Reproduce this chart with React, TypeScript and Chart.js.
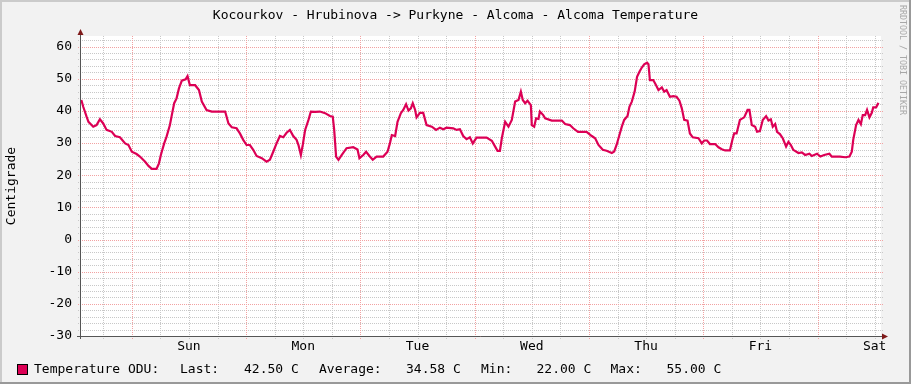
import { useEffect, useRef } from 'react';
import { Chart, registerables } from 'chart.js';

Chart.register(...registerables);

const TITLE = 'Kocourkov - Hrubinova -> Purkyne - Alcoma - Alcoma Temperature';
const Y_TITLE = 'Centigrade';
const WATERMARK = 'RRDTOOL / TOBI OETIKER';
const DAY_LABELS = ['Sun', 'Mon', 'Tue', 'Wed', 'Thu', 'Fri', 'Sat'];
const SERIES_NAME = 'Temperature ODU:';
const STAT_LABELS = ['Last:', 'Average:', 'Min:', 'Max:'];
const STAT_VALUES = ['42.50 C', '34.58 C', '22.00 C', '55.00 C'];

// hours relative to Sunday 00:00
const HOURS = [
  -10.6, -10.2, -9.5, -9.1, -8.1, -7.4, -6.7, -6.0, -5.3, -4.2, -3.5, -2.5, -1.4, -0.7,
  0.0, 1.0, 1.7, 2.8, 3.5, 4.2, 5.2, 5.7, 6.1, 6.8, 7.3, 8.0, 8.4, 8.9, 9.4, 9.9, 10.5,
  11.3, 11.7, 12.2, 13.3, 14.1, 14.7, 15.7, 16.8, 19.6, 20.3, 21.0, 22.0, 22.7, 23.4,
  24.1, 24.8, 25.5, 26.2, 27.3, 28.3, 29.0, 29.7, 30.4, 31.1, 31.8, 32.5, 33.2, 33.9,
  34.6, 35.0, 35.5, 35.9, 36.4, 37.1, 37.6, 38.5, 39.5, 40.6, 41.6, 42.2, 42.5, 42.9,
  43.4, 44.1, 45.1, 46.5, 47.4, 47.8, 48.6, 49.2, 49.9, 50.6, 51.4, 52.8, 53.7, 54.2,
  54.6, 55.3, 55.8, 56.5, 57.0, 57.6, 58.1, 58.6, 59.0, 59.5, 59.8, 60.5, 61.2, 61.9,
  63.0, 63.9, 64.7, 65.4, 66.1, 67.5, 68.2, 68.9, 69.6, 70.3, 71.0, 71.6, 72.4, 74.5,
  75.6, 76.3, 76.8, 77.3, 77.7, 78.4, 79.1, 79.8, 80.5, 81.2, 81.7, 82.1, 82.6, 83.1,
  83.8, 84.0, 84.5, 84.9, 85.4, 85.7, 86.4, 86.8, 88.2, 90.3, 91.0, 92.0, 92.7, 93.7,
  95.5, 96.6, 97.3, 98.0, 98.9, 99.7, 100.8, 101.3, 101.8, 102.4, 102.9, 103.4, 104.1,
  104.5, 105.0, 105.6, 106.1, 106.6, 107.1, 107.6, 108.2, 108.5, 108.8, 109.5, 110.1,
  110.6, 111.3, 111.8, 112.3, 113.0, 113.7, 114.4, 115.0, 115.5, 116.0, 116.7, 117.2,
  117.8, 119.0, 119.7, 120.2, 120.8, 121.4, 122.5, 123.2, 123.9, 124.6, 125.6, 126.2,
  126.5, 127.0, 127.7, 128.6, 129.3, 129.7, 130.2, 130.9, 131.3, 131.9, 132.5, 133.2,
  133.7, 134.2, 134.6, 135.1, 135.5, 136.1, 136.7, 137.4, 137.9, 138.4, 138.9, 140.0,
  140.7, 141.4, 142.3, 142.8, 143.9, 144.6, 145.4, 146.5, 147.0, 148.7, 149.8, 150.7,
  151.2, 151.5, 152.1, 152.6, 153.1, 153.5, 154.0, 154.4, 154.9, 155.4, 155.7, 156.3, 156.8,
];

const TEMPS = [
  43.4, 41.3, 38.2, 36.6, 35.1, 35.6, 37.4, 36.1, 34.1, 33.5, 32.2, 31.8, 29.9, 29.4,
  27.3, 26.6, 25.8, 24.2, 22.9, 22.0, 22.0, 23.7, 26.3, 29.9, 32.0, 35.6, 38.7, 42.4, 43.9, 47.0, 49.4,
  49.8, 50.8, 48.0, 48.0, 46.5, 42.9, 40.3, 39.8, 39.8, 36.1, 34.9, 34.6, 33.0, 31.0,
  29.4, 29.4, 27.9, 26.0, 25.3, 24.2, 24.8, 27.3, 29.9, 32.2, 31.8, 33.2, 34.1, 32.2,
  31.0, 29.4, 26.3, 29.4, 34.1, 37.2, 39.8, 39.7, 39.8, 39.3, 38.4, 38.2, 34.1, 25.8,
  24.8, 26.3, 28.4, 28.7, 28.0, 25.3, 26.3, 27.3, 26.0, 24.8, 25.8, 25.8, 27.3, 29.9,
  32.5, 32.2, 36.6, 39.3, 40.3, 42.1, 40.1, 40.8, 42.4, 40.3, 38.0, 39.4, 39.4, 35.6,
  35.1, 34.1, 34.8, 34.3, 34.8, 34.6, 34.1, 34.3, 32.2, 31.2, 31.8, 29.9, 31.7, 31.7,
  30.7, 28.9, 27.6, 27.6, 31.5, 36.6, 35.1, 37.2, 42.9, 43.4, 46.0, 43.4, 42.4, 43.2,
  41.8, 35.6, 35.1, 37.7, 37.5, 39.8, 38.7, 37.7, 37.0, 37.0, 35.9, 35.6, 34.6, 33.5,
  33.5, 32.2, 31.5, 29.4, 27.9, 27.6, 26.9, 27.4, 29.4, 32.5, 35.1, 37.2, 38.4,
  41.3, 42.9, 46.0, 50.6, 52.2, 53.5, 54.5, 55.0, 54.5, 49.6, 49.6, 48.0,
  46.5, 47.3, 46.0, 46.5, 44.4, 44.6, 44.4, 43.2, 40.8, 37.2, 37.0, 33.0,
  31.8, 31.5, 29.9, 30.8, 30.8, 29.7, 29.7, 28.7, 28.1, 27.7, 27.7, 31.5,
  33.0, 33.0, 37.2, 38.0, 40.3, 40.3, 35.6, 35.1, 33.5, 33.7, 37.2, 38.4,
  37.0, 37.4, 35.1, 35.9, 33.5, 32.8, 31.5, 28.9, 30.4, 29.4, 27.9, 26.9,
  27.1, 26.3, 26.7, 26.0, 26.7, 25.8, 26.3, 26.7, 25.8, 25.8, 25.6, 25.8,
  27.3, 31.0, 35.6, 37.2, 35.9, 38.7, 38.7, 40.3, 38.0, 39.4, 41.1, 41.1, 42.5,
];

const X_MIN = -10.67;
const X_MAX = 157.33;
const Y_MIN = -30;
const Y_MAX = 63.3;

const LINE_COLOR = '#DC0055';
const FONT = "'DejaVu Sans Mono', monospace";
const MINOR = '#C8C8C8';
const MAJOR = '#F2A2A2';

const rrdPlugin = {
  id: 'rrd',
  beforeDraw(chart: any) {
    const { ctx, chartArea: a, width, height } = chart;
    ctx.save();
    ctx.fillStyle = '#F2F2F2';
    ctx.fillRect(0, 0, width, height);
    ctx.fillStyle = '#CBCBCB';
    ctx.fillRect(0, 0, width, 2);
    ctx.fillRect(0, 0, 2, height);
    ctx.fillStyle = '#999999';
    ctx.fillRect(0, height - 2, width, 2);
    ctx.fillRect(width - 2, 0, 2, height);
    ctx.fillStyle = '#FFFFFF';
    ctx.fillRect(a.left, a.top, a.right - a.left, a.bottom - a.top);
    ctx.restore();
  },
  beforeDatasetsDraw(chart: any) {
    const { ctx, chartArea: a, scales } = chart;
    ctx.save();
    ctx.lineWidth = 1;
    ctx.setLineDash([1, 1]);
    for (const pass of [0, 1]) {
      for (const t of scales.y.ticks) {
        const major = t.value % 10 === 0;
        if ((pass === 1) !== major) continue;
        const y = Math.round(scales.y.getPixelForValue(t.value)) + 0.5;
        ctx.strokeStyle = major ? MAJOR : MINOR;
        ctx.beginPath();
        ctx.moveTo(a.left - 3, y);
        ctx.lineTo(a.right + 3, y);
        ctx.stroke();
      }
      for (const t of scales.x.ticks) {
        const major = t.value % 24 === 0;
        if ((pass === 1) !== major) continue;
        const x = Math.round(scales.x.getPixelForValue(t.value)) + 0.5;
        ctx.strokeStyle = major ? MAJOR : MINOR;
        ctx.beginPath();
        ctx.moveTo(x, a.top);
        ctx.lineTo(x, a.bottom + 3);
        ctx.stroke();
      }
    }
    ctx.restore();
  },
  afterDraw(chart: any) {
    const { ctx, chartArea: a } = chart;
    ctx.save();
    ctx.strokeStyle = '#555555';
    ctx.lineWidth = 1;
    ctx.beginPath();
    ctx.moveTo(a.left - 0.5, a.bottom + 3);
    ctx.lineTo(a.left - 0.5, a.top - 4);
    ctx.moveTo(a.left - 4, a.bottom + 0.5);
    ctx.lineTo(a.right + 3, a.bottom + 0.5);
    ctx.stroke();
    ctx.fillStyle = '#7F1A1A';
    ctx.beginPath();
    ctx.moveTo(a.left - 3.5, a.top - 1);
    ctx.lineTo(a.left + 2.5, a.top - 1);
    ctx.lineTo(a.left - 0.5, a.top - 7);
    ctx.closePath();
    ctx.fill();
    ctx.beginPath();
    ctx.moveTo(a.right + 1, a.bottom - 2.5);
    ctx.lineTo(a.right + 1, a.bottom + 3.5);
    ctx.lineTo(a.right + 7, a.bottom + 0.5);
    ctx.closePath();
    ctx.fill();

    ctx.fillStyle = '#000000';
    ctx.font = `13px ${FONT}`;
    ctx.textAlign = 'center';
    ctx.textBaseline = 'alphabetic';
    ctx.fillText(TITLE, 455.5, 19);

    ctx.save();
    ctx.translate(11.5, 186);
    ctx.rotate(-Math.PI / 2);
    ctx.textBaseline = 'middle';
    ctx.fillText(Y_TITLE, 0, 0);
    ctx.restore();

    ctx.save();
    ctx.translate(902.5, 5);
    ctx.rotate(Math.PI / 2);
    ctx.fillStyle = '#A8A8A8';
    ctx.font = `8.3px ${FONT}`;
    ctx.textAlign = 'left';
    ctx.textBaseline = 'middle';
    ctx.fillText(WATERMARK, 0, 0);
    ctx.restore();

    ctx.fillStyle = LINE_COLOR;
    ctx.fillRect(17, 364, 11, 11);
    ctx.strokeStyle = '#000000';
    ctx.strokeRect(17.5, 364.5, 10, 10);
    ctx.fillStyle = '#000000';
    ctx.textAlign = 'left';
    ctx.textBaseline = 'alphabetic';
    ctx.font = `13px ${FONT}`;
    ctx.fillText(SERIES_NAME, 34, 373);
    const labelX = [180, 319, 481, 610.5];
    const valueX = [244, 406, 536.5, 666.5];
    STAT_LABELS.forEach((l, i) => {
      ctx.fillText(l, labelX[i], 373);
      ctx.fillText(STAT_VALUES[i], valueX[i], 373);
    });
    ctx.restore();
  },
};

export default function App() {
  const ref = useRef<HTMLCanvasElement | null>(null);
  useEffect(() => {
    if (!ref.current) return;
    const data = HOURS.map((h, i) => ({ x: h, y: TEMPS[i] }));
    const chart = new Chart(ref.current, {
      type: 'line',
      data: {
        datasets: [
          {
            label: 'Temperature ODU',
            data,
            borderColor: LINE_COLOR,
            borderWidth: 2.2,
            pointRadius: 0,
            tension: 0,
            fill: false,
          },
        ],
      },
      options: {
        responsive: false,
        animation: false,
        layout: { padding: { left: 20, right: 30, top: 36, bottom: 28 } },
        plugins: { legend: { display: false }, tooltip: { enabled: false }, title: { display: false } },
        scales: {
          x: {
            type: 'linear',
            min: X_MIN,
            max: X_MAX,
            afterBuildTicks: (scale: any) => {
              const t = [];
              for (let v = -6; v <= 156; v += 6) t.push({ value: v });
              scale.ticks = t;
            },
            afterFit: (scale: any) => {
              scale.height = 20;
            },
            grid: { display: false, drawTicks: false, tickLength: 3 },
            border: { display: false },
            ticks: {
              autoSkip: false,
              maxRotation: 0,
              padding: 3,
              color: '#000000',
              font: { family: FONT, size: 13 },
              callback: (v: any) => {
                const n = Number(v);
                return n % 24 === 12 ? DAY_LABELS[(n - 12) / 24] : '';
              },
            },
          },
          y: {
            type: 'linear',
            min: Y_MIN,
            max: Y_MAX,
            afterBuildTicks: (scale: any) => {
              const t = [];
              for (let v = -30; v <= 62; v += 2) t.push({ value: v });
              scale.ticks = t;
            },
            afterFit: (scale: any) => {
              scale.width = 61;
            },
            grid: { display: false, drawTicks: false },
            border: { display: false },
            ticks: {
              autoSkip: false,
              padding: 9,
              color: '#000000',
              font: { family: FONT, size: 13 },
              callback: (v: any) => {
                const n = Number(v);
                return n % 10 === 0 ? String(n) : '';
              },
            },
          },
        },
      },
      plugins: [rrdPlugin],
    });
    return () => chart.destroy();
  }, []);
  return (
    <div style={{ position: 'fixed', left: 0, top: 0, width: 911, height: 384 }}>
      <canvas ref={ref} width={911} height={384} style={{ width: 911, height: 384, display: 'block' }} />
    </div>
  );
}
